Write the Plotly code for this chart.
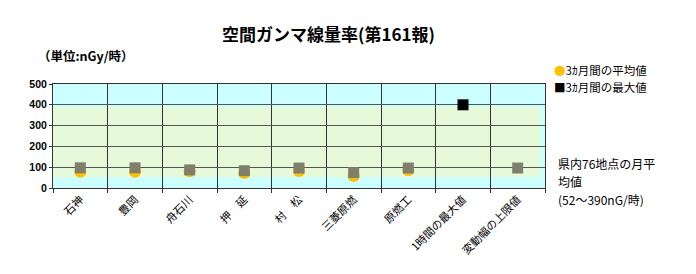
import plotly.graph_objects as go

categories = ["石神", "豊岡", "舟石川", "押　延", "村　松", "三菱原燃", "原燃工", "1時間の最大値", "変動幅の上限値"]
avg_values = [78, 78, 80, 72, 82, 58, 85, None, None]
max_values = [97, 97, 87, 83, 96, 74, 96, None, 96]
hour_max = [None, None, None, None, None, None, None, 400, None]
range_low, range_high = 52, 390
y_ticks = [0, 100, 200, 300, 400, 500]
note_lines = ["県内76地点の月平", "均値", "(52～390nG/時)"]

FONT = "Noto Sans CJK JP, Arial, sans-serif"

fig = go.Figure()
fig.add_trace(go.Scatter(x=categories, y=avg_values, mode="markers",
                         marker=dict(symbol="circle", size=12, color="#FFC000",
                                     line=dict(width=0)), showlegend=False))
fig.add_trace(go.Scatter(x=categories, y=max_values, mode="markers",
                         marker=dict(symbol="square", size=11, color="#7F7F6C",
                                     line=dict(width=0)), showlegend=False))
fig.add_trace(go.Scatter(x=categories, y=hour_max, mode="markers",
                         marker=dict(symbol="square", size=11, color="#000000",
                                     line=dict(width=0)), showlegend=False))

fig.add_shape(type="rect", xref="paper", yref="y", x0=0, x1=0.99,
              y0=range_low, y1=range_high, fillcolor="#E6FADA",
              line=dict(width=0), layer="below")

annotations = [
    dict(text="<b>空間ガンマ線量率(第161報)</b>", xref="paper", yref="paper",
         x=0.56, y=1.0, yshift=51, xanchor="center", yanchor="middle",
         showarrow=False, font=dict(size=17, family=FONT)),
    dict(text="<b>（単位:nGy/時）</b>", xref="paper", yref="paper",
         x=-0.035, y=1.0, yshift=29, xanchor="left", yanchor="middle",
         showarrow=False, font=dict(size=12.5, family=FONT)),
    dict(text="<span style='color:#FFC000'>●</span>3ｶ月間の平均値",
         xref="paper", yref="paper", x=1.015, y=1.0, yshift=14,
         xanchor="left", yanchor="middle", align="left", showarrow=False,
         font=dict(size=11.5, family=FONT)),
    dict(text="■3ｶ月間の最大値",
         xref="paper", yref="paper", x=1.015, y=1.0, yshift=-3,
         xanchor="left", yanchor="middle", align="left", showarrow=False,
         font=dict(size=11.5, family=FONT)),
]
for i, line in enumerate(note_lines):
    annotations.append(dict(text=line, xref="paper", yref="paper", x=1.022, y=0.0,
                            yshift=25 - 18 * i, xanchor="left", yanchor="middle",
                            align="left", showarrow=False,
                            font=dict(size=12, family=FONT)))

fig.update_layout(
    width=696, height=274,
    margin=dict(l=53, r=151, t=84, b=86),
    paper_bgcolor="white", plot_bgcolor="#CCFFFF",
    font=dict(family=FONT, color="black"),
    showlegend=False,
    xaxis=dict(type="category", tickson="boundaries", showgrid=True,
               gridcolor="#333333", gridwidth=1, ticks="outside", ticklen=4,
               tickcolor="#333333", tickangle=-45, tickfont=dict(size=11),
               showline=True, linecolor="#333333", linewidth=1, mirror=True,
               range=[-0.5, 8.5]),
    yaxis=dict(range=[0, 500], tickvals=y_ticks, showgrid=True,
               gridcolor="#555555", gridwidth=1, ticks="outside", ticklen=3,
               tickcolor="#333333",
               tickfont=dict(size=10.5, family="Arial, Liberation Sans, sans-serif", weight="bold"),
               showline=True, linecolor="#333333", linewidth=1, mirror=True,
               zeroline=False),
    annotations=annotations,
)

fig.write_html("out.html")
